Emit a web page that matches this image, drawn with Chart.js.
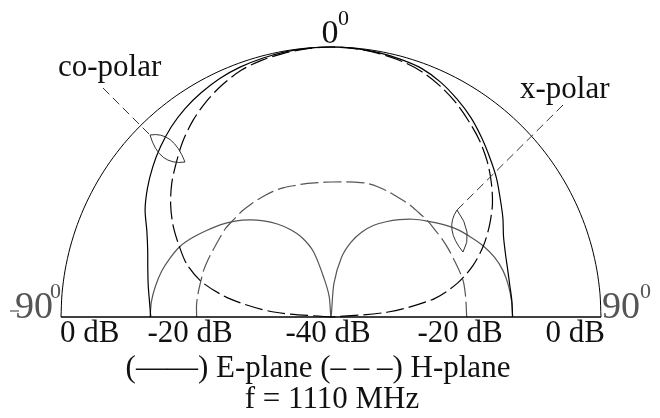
<!DOCTYPE html>
<html>
<head>
<meta charset="utf-8">
<script src="https://cdn.jsdelivr.net/npm/chart.js@4.4.0/dist/chart.umd.min.js"></script>
<style>
  html, body { margin: 0; padding: 0; background: #fff; overflow: hidden; }
  #wrap { width: 660px; height: 418px; overflow: hidden; }
  canvas { display: block; }
</style>
</head>
<body>
<div id="wrap"><canvas id="pattern" width="660" height="600"></canvas></div>
<script>
// angle from broadside in degrees, negative = left half
const angleDeg = [-90, -85, -80, -75, -70, -65, -60, -55, -50, -45, -40, -35, -30, -25, -20, -15, -10, -5,
  0, 5, 10, 15, 20, 25, 30, 35, 40, 45, 50, 55, 60, 65, 70, 75, 80, 85, 90];

// normalised patterns in dB, one value per angle above
const ePlaneCo = [-13.3, -13.0, -12.5, -11.9, -11.1, -9.9, -8.2, -6.8, -5.5, -4.3, -3.2, -2.3, -1.6, -1.0, -0.6, -0.35, -0.15, -0.05,
  0, -0.05, -0.2, -0.45, -0.8, -1.6, -2.7, -3.9, -5.3, -6.7, -8.0, -9.4, -10.6, -11.8, -12.5, -12.9, -13.1, -13.1, -13.1];
const hPlaneCo = [-40, -31.5, -25.0, -20.3, -17.3, -15.2, -13.0, -11.0, -9.2, -7.6, -5.9, -4.4, -3.1, -2.0, -1.1, -0.6, -0.3, -0.08,
  0, -0.08, -0.3, -0.65, -1.2, -2.1, -3.2, -4.5, -5.8, -7.3, -9.0, -10.8, -12.9, -15.1, -17.6, -20.6, -24.5, -31.5, -40];
const ePlaneX = [-13.2, -13.3, -13.6, -14.0, -14.6, -15.3, -16.4, -17.6, -18.7, -19.9, -21.2, -22.6, -24.1, -25.7, -27.5, -30.0, -34.3, -37.0,
  -40, -35.0, -31.0, -28.5, -26.6, -25.0, -23.7, -22.4, -21.1, -19.9, -18.6, -17.3, -16.2, -15.1, -14.2, -13.6, -13.3, -13.15, -13.1];
const hPlaneX = [-20.1, -20.0, -20.0, -20.0, -19.9, -19.9, -19.9, -19.8, -19.6, -19.6, -19.5, -19.5, -19.5, -19.5, -19.6, -19.8, -19.9, -20.0,
  -20.0, -19.9, -19.7, -19.5, -19.5, -19.6, -19.7, -19.7, -19.8, -19.8, -19.9, -19.9, -19.9, -19.9, -19.8, -19.7, -19.8, -19.9, -19.9];
// 0 dB rim of the plot
const rim = [0, 0, 0, 0, 0, 0, 0, 0, 0, 0, 0, 0, 0, 0, 0, 0, 0, 0,
  0, 0, 0, 0, 0, 0, 0, 0, 0, 0, 0, 0, 0, 0, 0, 0, 0, 0, 0];

// radial tick labels along the base line, left to right
const tickValues = [0, -20, -40, -20, 0];
const tickLabels = ['0 dB', '-20 dB', '-40 dB', '-20 dB', '0 dB'];
const tickSide = [-1, -1, 0, 1, 1];

const step = 5;
const slots = 360 / step;
const labels = [];
for (let a = 0; a < 360; a += step) labels.push(a + '°');

// put a -90..90 series on the full ring, the lower half stays empty
function toRing(values) {
  const ring = new Array(slots).fill(null);
  angleDeg.forEach((a, i) => {
    ring[((a + 360) % 360) / step] = values[i];
  });
  return ring;
}

const dash = [18, 5];
const coColor = '#000';
const xColor = '#555';

const annotate = {
  id: 'annotate',
  afterDatasetsDraw(chart) {
    const s = chart.scales.r;
    const ctx = chart.ctx;
    const cx = s.xCenter, cy = s.yCenter;
    const left = s.getPointPositionForValue(54, 0);
    const right = s.getPointPositionForValue(18, 0);
    ctx.save();

    // base line
    ctx.strokeStyle = '#000';
    ctx.lineWidth = 1.3;
    ctx.setLineDash([]);
    ctx.beginPath();
    ctx.moveTo(left.x, cy);
    ctx.lineTo(right.x, cy);
    ctx.stroke();

    // dB ticks
    ctx.fillStyle = '#111';
    ctx.textBaseline = 'alphabetic';
    ctx.font = '31px "Liberation Serif", serif';
    const aligns = ['left', 'center', 'center', 'center', 'right'];
    const shifts = [-1, -6, -3, -6, 4];
    tickValues.forEach((v, i) => {
      const x = cx + tickSide[i] * s.getDistanceFromCenterForValue(v);
      ctx.textAlign = aligns[i];
      ctx.fillText(tickLabels[i], x + shifts[i], cy + 25);
    });

    // angle marks
    ctx.textAlign = 'center';
    ctx.font = '34px "Liberation Serif", serif';
    ctx.fillText('0', cx - 1, cy - s.drawingArea - 4);
    ctx.textAlign = 'left';
    ctx.font = '22px "Liberation Serif", serif';
    ctx.fillText('0', cx + 7, cy - s.drawingArea - 22);

    ctx.fillStyle = '#555';
    ctx.font = '38px "Liberation Serif", serif';
    ctx.textAlign = 'right';
    ctx.fillText('90', left.x - 8, cy + 1);
    ctx.textAlign = 'left';
    ctx.fillText('90', right.x + 1, cy + 1);
    ctx.font = '22px "Liberation Serif", serif';
    ctx.fillText('0', left.x - 11, cy - 19);
    ctx.fillText('0', right.x + 39, cy - 19);
    ctx.strokeStyle = '#777';
    ctx.lineWidth = 1.5;
    ctx.beginPath();
    ctx.moveTo(left.x - 51, cy - 6);
    ctx.lineTo(left.x - 42, cy - 6);
    ctx.stroke();

    // call-outs
    ctx.fillStyle = '#111';
    ctx.font = '31px "Liberation Serif", serif';
    ctx.fillText('co-polar', cx - 273, cy - 241);
    ctx.fillText('x-polar', cx + 189, cy - 219);

    ctx.strokeStyle = '#333';
    ctx.lineWidth = 1;
    ctx.setLineDash([9, 5]);
    ctx.beginPath();
    ctx.moveTo(cx - 228, cy - 229);
    ctx.lineTo(cx - 181, cy - 182);
    ctx.moveTo(cx + 232, cy - 212);
    ctx.lineTo(cx + 126, cy - 107);
    ctx.stroke();
    ctx.setLineDash([]);
    ctx.beginPath();
    ctx.moveTo(cx - 181, cy - 182);
    ctx.quadraticCurveTo(cx - 158, cy - 186, cx - 146, cy - 155);
    ctx.quadraticCurveTo(cx - 172, cy - 151, cx - 181, cy - 182);
    ctx.moveTo(cx + 126, cy - 107);
    ctx.quadraticCurveTo(cx + 143, cy - 84, cx + 132, cy - 65);
    ctx.quadraticCurveTo(cx + 113, cy - 88, cx + 126, cy - 107);
    ctx.stroke();

    // legend and frequency
    ctx.textAlign = 'center';
    ctx.fillText('(——) E-plane (– – –) H-plane', cx - 13, cy + 60);
    ctx.fillText('f = 1110 MHz', cx + 1, cy + 91);
    ctx.restore();
  }
};

const ctx_pattern = document.getElementById('pattern');
const data_pattern = {
  labels: labels,
  datasets: [
    { label: 'rim', data: toRing(rim), borderColor: '#000', borderWidth: 1 },
    { label: 'E-plane co-polar', data: toRing(ePlaneCo), borderColor: coColor },
    { label: 'H-plane co-polar', data: toRing(hPlaneCo), borderColor: coColor, borderDash: dash },
    { label: 'E-plane x-polar', data: toRing(ePlaneX), borderColor: xColor },
    { label: 'H-plane x-polar', data: toRing(hPlaneX), borderColor: xColor, borderDash: dash }
  ]
};
data_pattern.datasets.forEach(d => { d.fill = false; d.spanGaps = false; });

const config_pattern = {
  type: 'radar',
  data: data_pattern,
  options: {
    responsive: false,
    animation: false,
    layout: { padding: { left: 61, right: 59, top: 47, bottom: 13 } },
    elements: {
      point: { radius: 0, hoverRadius: 0 },
      line: { borderWidth: 1.2, tension: 0.3 }
    },
    scales: {
      r: {
        min: -40,
        max: 0,
        ticks: { display: false },
        grid: { display: false },
        angleLines: { display: false },
        pointLabels: { display: false }
      }
    },
    plugins: { legend: { display: false }, tooltip: { enabled: false } }
  },
  plugins: [annotate]
};
const myChart_pattern = new Chart(ctx_pattern, config_pattern);
</script>
</body>
</html>
